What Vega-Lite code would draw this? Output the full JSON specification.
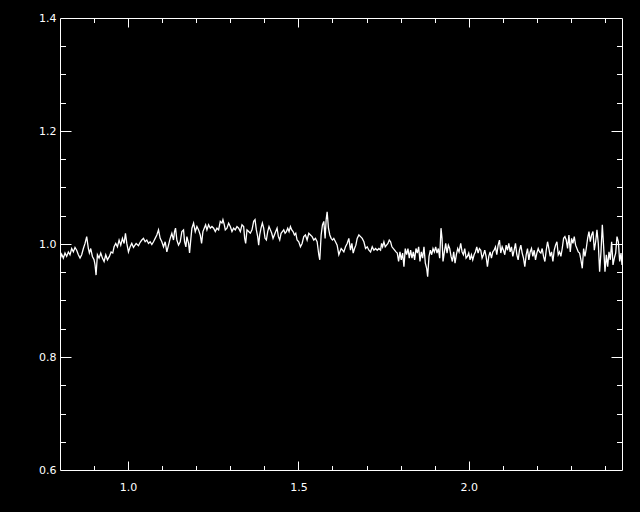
{
  "$schema": "https://vega.github.io/schema/vega-lite/v6.json",
  "width": 562,
  "height": 452,
  "autosize": {"type": "none"},
  "padding": {"left": 60, "top": 18, "right": 18, "bottom": 42},
  "background": "black",
  "config": {
    "view": {"stroke": "white", "strokeWidth": 1},
    "axis": {"labelColor": "white", "labelFont": "DejaVu Sans", "labelFontSize": 11, "tickColor": "white", "tickWidth": 1, "domain": false, "grid": false, "title": null}
  },
  "data": {"values": [
    {"w":0.8000,"f":0.972},{"w":0.8049,"f":0.982},{"w":0.8098,"f":0.975},{"w":0.8147,"f":0.984},{"w":0.8196,"f":0.978},{"w":0.8245,"f":0.986},{"w":0.8294,"f":0.981},{"w":0.8343,"f":0.992},{"w":0.8392,"f":0.986},{"w":0.8441,"f":0.994},{"w":0.8490,"f":0.989},{"w":0.8539,"f":0.981},{"w":0.8588,"f":0.975},{"w":0.8637,"f":0.981},{"w":0.8686,"f":0.992},{"w":0.8735,"f":1.001},{"w":0.8784,"f":1.013},{"w":0.8833,"f":0.992},{"w":0.8863,"f":0.984},{"w":0.8902,"f":0.992},{"w":0.8951,"f":0.978},{"w":0.9000,"f":0.972},{"w":0.9029,"f":0.963},{"w":0.9059,"f":0.945},{"w":0.9098,"f":0.981},{"w":0.9147,"f":0.975},{"w":0.9196,"f":0.984},{"w":0.9245,"f":0.975},{"w":0.9294,"f":0.969},{"w":0.9343,"f":0.981},{"w":0.9392,"f":0.972},{"w":0.9451,"f":0.978},{"w":0.9500,"f":0.986},{"w":0.9549,"f":0.984},{"w":0.9588,"f":0.995},{"w":0.9637,"f":1.001},{"w":0.9686,"f":0.995},{"w":0.9735,"f":1.007},{"w":0.9784,"f":0.998},{"w":0.9833,"f":1.010},{"w":0.9882,"f":1.001},{"w":0.9922,"f":1.019},{"w":0.9961,"f":1.001},{"w":1.0010,"f":0.986},{"w":1.0059,"f":0.995},{"w":1.0108,"f":1.001},{"w":1.0157,"f":0.994},{"w":1.0235,"f":1.001},{"w":1.0304,"f":0.997},
    {"w":1.0353,"f":1.003},{"w":1.0402,"f":1.007},{"w":1.0451,"f":1.010},{"w":1.0500,"f":1.004},{"w":1.0549,"f":1.007},{"w":1.0598,"f":1.001},{"w":1.0647,"f":1.004},{"w":1.0696,"f":0.999},{"w":1.0745,"f":1.004},{"w":1.0794,"f":1.010},{"w":1.0843,"f":1.016},{"w":1.0892,"f":1.025},{"w":1.0941,"f":1.010},{"w":1.0990,"f":1.004},{"w":1.1039,"f":0.995},{"w":1.1088,"f":1.004},{"w":1.1137,"f":0.986},{"w":1.1186,"f":0.998},{"w":1.1235,"f":1.010},{"w":1.1284,"f":1.019},{"w":1.1333,"f":1.007},{"w":1.1363,"f":1.022},{"w":1.1392,"f":1.028},{"w":1.1431,"f":1.007},{"w":1.1480,"f":0.998},{"w":1.1529,"f":1.004},{"w":1.1578,"f":1.022},{"w":1.1627,"f":1.025},{"w":1.1657,"f":1.004},{"w":1.1696,"f":0.995},{"w":1.1725,"f":1.013},{"w":1.1775,"f":1.001},{"w":1.1804,"f":0.984},{"w":1.1843,"f":1.010},{"w":1.1873,"f":1.028},{"w":1.1922,"f":1.037},{"w":1.1971,"f":1.022},{"w":1.2020,"f":1.031},{"w":1.2069,"f":1.025},{"w":1.2118,"f":1.016},{"w":1.2157,"f":1.001},{"w":1.2196,"f":1.022},{"w":1.2235,"f":1.028},{"w":1.2275,"f":1.034},{"w":1.2314,"f":1.025},{"w":1.2363,"f":1.034},{"w":1.2412,"f":1.028},{"w":1.2461,"f":1.031},{"w":1.2510,"f":1.028},{"w":1.2559,"f":1.022},{"w":1.2608,"f":1.028},{"w":1.2657,"f":1.025},
    {"w":1.2706,"f":1.040},{"w":1.2755,"f":1.037},{"w":1.2784,"f":1.043},{"w":1.2824,"f":1.034},{"w":1.2853,"f":1.025},{"w":1.2902,"f":1.028},{"w":1.2951,"f":1.037},{"w":1.3000,"f":1.031},{"w":1.3049,"f":1.022},{"w":1.3098,"f":1.028},{"w":1.3147,"f":1.025},{"w":1.3196,"f":1.031},{"w":1.3245,"f":1.028},{"w":1.3294,"f":1.022},{"w":1.3343,"f":1.034},{"w":1.3392,"f":1.031},{"w":1.3422,"f":1.010},{"w":1.3451,"f":1.001},{"w":1.3490,"f":1.025},{"w":1.3539,"f":1.022},{"w":1.3588,"f":1.019},{"w":1.3637,"f":1.025},{"w":1.3686,"f":1.040},{"w":1.3726,"f":1.043},{"w":1.3765,"f":1.025},{"w":1.3804,"f":1.013},{"w":1.3833,"f":0.998},{"w":1.3863,"f":1.016},{"w":1.3902,"f":1.028},{"w":1.3941,"f":1.037},{"w":1.3980,"f":1.028},{"w":1.4020,"f":1.010},{"w":1.4059,"f":1.007},{"w":1.4098,"f":1.022},{"w":1.4137,"f":1.031},{"w":1.4177,"f":1.025},{"w":1.4216,"f":1.019},{"w":1.4255,"f":1.010},{"w":1.4294,"f":1.016},{"w":1.4333,"f":1.022},{"w":1.4373,"f":1.028},{"w":1.4412,"f":1.013},{"w":1.4451,"f":1.007},{"w":1.4490,"f":1.019},{"w":1.4529,"f":1.022},{"w":1.4569,"f":1.025},{"w":1.4608,"f":1.019},{"w":1.4647,"f":1.022},{"w":1.4686,"f":1.028},{"w":1.4725,"f":1.022},{"w":1.4765,"f":1.031},{"w":1.4804,"f":1.025},{"w":1.4843,"f":1.022},{"w":1.4882,"f":1.016},{"w":1.4922,"f":1.019},{"w":1.4961,"f":1.007},{"w":1.5010,"f":1.004},
    {"w":1.5059,"f":0.995},{"w":1.5108,"f":1.001},{"w":1.5157,"f":1.013},{"w":1.5206,"f":1.016},{"w":1.5255,"f":1.007},{"w":1.5304,"f":1.019},{"w":1.5353,"f":1.016},{"w":1.5402,"f":1.013},{"w":1.5451,"f":1.007},{"w":1.5500,"f":1.010},{"w":1.5549,"f":1.004},{"w":1.5598,"f":0.981},{"w":1.5627,"f":0.972},{"w":1.5667,"f":1.016},{"w":1.5706,"f":1.034},{"w":1.5745,"f":1.040},{"w":1.5784,"f":1.010},{"w":1.5814,"f":1.043},{"w":1.5843,"f":1.057},{"w":1.5882,"f":1.028},{"w":1.5922,"f":1.016},{"w":1.5961,"f":1.010},{"w":1.6000,"f":1.007},{"w":1.6039,"f":1.010},{"w":1.6088,"f":1.004},{"w":1.6137,"f":0.998},{"w":1.6186,"f":0.981},{"w":1.6216,"f":0.986},{"w":1.6255,"f":0.992},{"w":1.6294,"f":0.989},{"w":1.6333,"f":0.986},{"w":1.6382,"f":0.995},{"w":1.6431,"f":1.001},{"w":1.6480,"f":1.010},{"w":1.6529,"f":0.989},{"w":1.6569,"f":1.001},{"w":1.6608,"f":0.984},{"w":1.6647,"f":0.992},{"w":1.6686,"f":0.998},{"w":1.6725,"f":1.010},{"w":1.6775,"f":1.016},{"w":1.6824,"f":1.013},{"w":1.6873,"f":1.010},{"w":1.6922,"f":1.004},{"w":1.6971,"f":0.992},{"w":1.7020,"f":0.995},{"w":1.7069,"f":0.989},{"w":1.7118,"f":0.986},{"w":1.7167,"f":0.995},{"w":1.7216,"f":0.989},{"w":1.7265,"f":0.992},{"w":1.7314,"f":0.989},{"w":1.7363,"f":0.992},
    {"w":1.7412,"f":0.989},{"w":1.7441,"f":1.001},{"w":1.7471,"f":0.995},{"w":1.7510,"f":1.004},{"w":1.7549,"f":0.995},{"w":1.7588,"f":0.998},{"w":1.7628,"f":1.001},{"w":1.7667,"f":1.007},{"w":1.7706,"f":1.004},{"w":1.7745,"f":0.995},{"w":1.7824,"f":0.989},{"w":1.7863,"f":0.986},{"w":1.7902,"f":0.984},{"w":1.7941,"f":0.969},{"w":1.7981,"f":0.986},{"w":1.8020,"f":0.972},{"w":1.8059,"f":0.984},{"w":1.8098,"f":0.960},{"w":1.8137,"f":0.992},{"w":1.8177,"f":0.981},{"w":1.8216,"f":0.992},{"w":1.8255,"f":0.975},{"w":1.8294,"f":0.989},{"w":1.8334,"f":0.975},{"w":1.8373,"f":0.986},{"w":1.8412,"f":0.972},{"w":1.8451,"f":0.992},{"w":1.8490,"f":0.984},{"w":1.8530,"f":0.995},{"w":1.8569,"f":0.969},{"w":1.8608,"f":0.986},{"w":1.8647,"f":0.975},{"w":1.8686,"f":0.995},{"w":1.8726,"f":0.966},{"w":1.8765,"f":0.957},{"w":1.8794,"f":0.942},{"w":1.8834,"f":0.978},{"w":1.8873,"f":0.989},{"w":1.8912,"f":0.981},{"w":1.8951,"f":0.992},{"w":1.8990,"f":0.986},{"w":1.9030,"f":0.995},{"w":1.9069,"f":0.984},{"w":1.9108,"f":0.992},{"w":1.9147,"f":0.975},{"w":1.9186,"f":1.028},{"w":1.9216,"f":1.010},{"w":1.9245,"f":0.969},{"w":1.9285,"f":0.986},{"w":1.9324,"f":1.001},{"w":1.9363,"f":0.984},{"w":1.9402,"f":0.998},{"w":1.9441,"f":0.992},{"w":1.9481,"f":0.978},{"w":1.9520,"f":0.969},{"w":1.9559,"f":0.986},{"w":1.9598,"f":0.966},{"w":1.9637,"f":0.981},{"w":1.9677,"f":0.992},{"w":1.9716,"f":0.986},
    {"w":1.9765,"f":1.001},{"w":1.9804,"f":0.986},{"w":1.9843,"f":0.981},{"w":1.9883,"f":0.992},{"w":1.9922,"f":0.975},{"w":1.9961,"f":0.978},{"w":2.0000,"f":0.984},{"w":2.0040,"f":0.972},{"w":2.0079,"f":0.981},{"w":2.0118,"f":0.972},{"w":2.0157,"f":0.981},{"w":2.0196,"f":0.986},{"w":2.0236,"f":0.995},{"w":2.0275,"f":0.984},{"w":2.0314,"f":0.992},{"w":2.0353,"f":0.989},{"w":2.0392,"f":0.975},{"w":2.0432,"f":0.981},{"w":2.0471,"f":0.989},{"w":2.0510,"f":0.978},{"w":2.0549,"f":0.960},{"w":2.0589,"f":0.978},{"w":2.0628,"f":0.986},{"w":2.0667,"f":0.975},{"w":2.0706,"f":0.986},{"w":2.0745,"f":0.989},{"w":2.0785,"f":0.995},{"w":2.0824,"f":0.981},{"w":2.0863,"f":0.998},{"w":2.0902,"f":1.007},{"w":2.0941,"f":0.984},{"w":2.0981,"f":0.995},{"w":2.1020,"f":0.989},{"w":2.1059,"f":0.981},{"w":2.1098,"f":0.998},{"w":2.1138,"f":0.989},{"w":2.1177,"f":1.001},{"w":2.1216,"f":0.986},{"w":2.1255,"f":0.995},{"w":2.1294,"f":0.978},{"w":2.1334,"f":0.989},{"w":2.1373,"f":1.001},{"w":2.1412,"f":0.981},{"w":2.1451,"f":0.972},{"w":2.1490,"f":0.989},{"w":2.1530,"f":0.998},{"w":2.1569,"f":0.984},{"w":2.1608,"f":0.975},{"w":2.1647,"f":0.960},{"w":2.1687,"f":0.981},{"w":2.1726,"f":0.992},{"w":2.1765,"f":0.972},{"w":2.1804,"f":0.986},{"w":2.1843,"f":0.992},{"w":2.1883,"f":0.978},{"w":2.1922,"f":0.989},{"w":2.1961,"f":0.972},{"w":2.2000,"f":0.984},{"w":2.2040,"f":0.992},{"w":2.2079,"f":0.986},
    {"w":2.2118,"f":0.984},{"w":2.2157,"f":0.992},{"w":2.2196,"f":0.978},{"w":2.2236,"f":0.969},{"w":2.2275,"f":0.989},{"w":2.2314,"f":1.004},{"w":2.2353,"f":0.992},{"w":2.2393,"f":0.978},{"w":2.2432,"f":0.986},{"w":2.2471,"f":0.969},{"w":2.2510,"f":0.989},{"w":2.2549,"f":0.998},{"w":2.2589,"f":1.004},{"w":2.2628,"f":0.981},{"w":2.2667,"f":0.986},{"w":2.2706,"f":0.978},{"w":2.2745,"f":0.992},{"w":2.2785,"f":1.010},{"w":2.2824,"f":1.013},{"w":2.2863,"f":1.007},{"w":2.2902,"f":0.992},{"w":2.2942,"f":1.016},{"w":2.2981,"f":0.986},{"w":2.3020,"f":1.010},{"w":2.3059,"f":1.001},{"w":2.3098,"f":1.013},{"w":2.3138,"f":0.998},{"w":2.3177,"f":0.992},{"w":2.3216,"f":0.986},{"w":2.3255,"f":0.984},{"w":2.3294,"f":0.972},{"w":2.3334,"f":0.957},{"w":2.3373,"f":0.992},{"w":2.3412,"f":0.978},{"w":2.3451,"f":0.992},{"w":2.3491,"f":1.010},{"w":2.3530,"f":1.022},{"w":2.3569,"f":1.004},{"w":2.3608,"f":1.016},{"w":2.3647,"f":1.022},{"w":2.3687,"f":0.989},{"w":2.3726,"f":1.004},{"w":2.3765,"f":1.025},{"w":2.3804,"f":1.001},{"w":2.3843,"f":0.951},{"w":2.3883,"f":0.986},{"w":2.3922,"f":1.034},{"w":2.3961,"f":0.995},{"w":2.4000,"f":0.951},{"w":2.4040,"f":0.981},{"w":2.4079,"f":0.960},{"w":2.4118,"f":0.986},{"w":2.4157,"f":0.972},{"w":2.4196,"f":1.004},{"w":2.4236,"f":0.963},{"w":2.4275,"f":0.975},{"w":2.4314,"f":0.984},{"w":2.4353,"f":1.013},{"w":2.4393,"f":1.004},{"w":2.4432,"f":0.969},{"w":2.4471,"f":0.984},{"w":2.4500,"f":0.963}
  ]},
  "encoding": {
    "x": {"field": "w", "type": "quantitative", "scale": {"domain": [0.8, 2.45], "nice": false, "zero": false}},
    "y": {"field": "f", "type": "quantitative", "scale": {"domain": [0.6, 1.4], "nice": false, "zero": false}}
  },
  "layer": [
    {
      "mark": {"type": "line", "color": "white", "strokeWidth": 1.3, "clip": true},
      "encoding": {
        "x": {"field": "w", "type": "quantitative", "axis": {"orient": "bottom", "values": [1.0, 1.5, 2.0], "format": ".1f", "ticks": false, "labelPadding": 11}},
        "y": {"field": "f", "type": "quantitative", "axis": {"orient": "left", "values": [0.6, 0.8, 1.0, 1.2, 1.4], "format": ".1f", "ticks": false, "labelPadding": 4}}
      }
    },
    {
      "mark": {"type": "line", "opacity": 0},
      "encoding": {
        "x": {"field": "w", "type": "quantitative", "axis": {"orient": "bottom", "values": [1.0, 1.5, 2.0], "labels": false, "tickSize": -9}},
        "y": {"field": "f", "type": "quantitative", "axis": {"orient": "left", "values": [0.8, 1.0, 1.2], "labels": false, "tickSize": -11}}
      }
    },
    {
      "mark": {"type": "line", "opacity": 0},
      "encoding": {
        "x": {"field": "w", "type": "quantitative", "axis": {"orient": "bottom", "values": [0.9, 1.1, 1.2, 1.3, 1.4, 1.6, 1.7, 1.8, 1.9, 2.1, 2.2, 2.3, 2.4], "labels": false, "tickSize": -4.5}},
        "y": {"field": "f", "type": "quantitative", "axis": {"orient": "left", "values": [0.65, 0.7, 0.75, 0.85, 0.9, 0.95, 1.05, 1.1, 1.15, 1.25, 1.3, 1.35], "labels": false, "tickSize": -5.5}}
      }
    },
    {
      "mark": {"type": "line", "opacity": 0},
      "encoding": {
        "x": {"field": "w", "type": "quantitative", "axis": {"orient": "top", "values": [1.0, 1.5, 2.0], "labels": false, "tickSize": -9}},
        "y": {"field": "f", "type": "quantitative", "axis": {"orient": "right", "values": [0.8, 1.0, 1.2], "labels": false, "tickSize": -11}}
      }
    },
    {
      "mark": {"type": "line", "opacity": 0},
      "encoding": {
        "x": {"field": "w", "type": "quantitative", "axis": {"orient": "top", "values": [0.9, 1.1, 1.2, 1.3, 1.4, 1.6, 1.7, 1.8, 1.9, 2.1, 2.2, 2.3, 2.4], "labels": false, "tickSize": -4.5}},
        "y": {"field": "f", "type": "quantitative", "axis": {"orient": "right", "values": [0.65, 0.7, 0.75, 0.85, 0.9, 0.95, 1.05, 1.1, 1.15, 1.25, 1.3, 1.35], "labels": false, "tickSize": -5.5}}
      }
    }
  ],
  "resolve": {"axis": {"x": "independent", "y": "independent"}}
}
